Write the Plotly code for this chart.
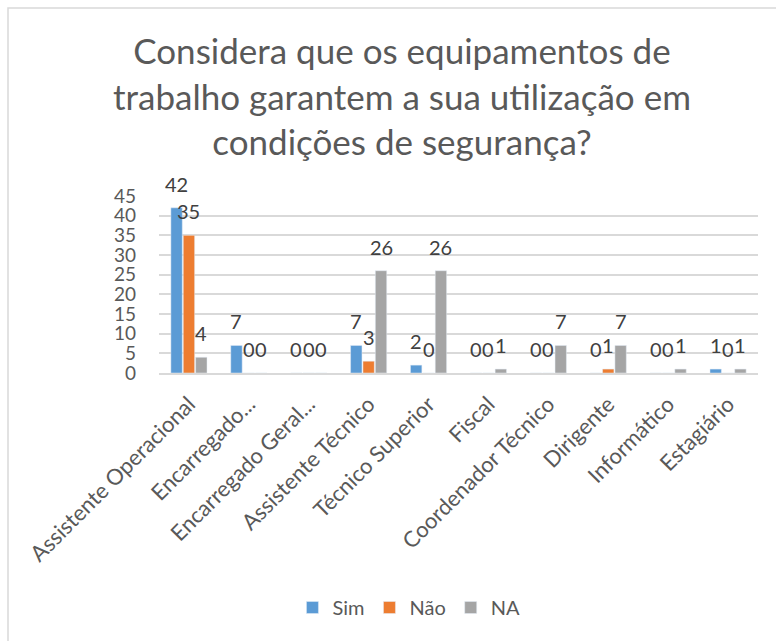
import plotly.graph_objects as go

categories = ["Assistente Operacional", "Encarregado...", "Encarregado Geral...",
              "Assistente Técnico", "Técnico Superior", "Fiscal",
              "Coordenador Técnico", "Dirigente", "Informático", "Estagiário"]
sim = [42, 7, 0, 7, 2, 0, 0, 0, 0, 1]
nao = [35, 0, 0, 3, 0, 0, 0, 1, 0, 0]
na = [4, 0, 0, 26, 26, 1, 7, 7, 1, 1]
y_ticks = [0, 5, 10, 15, 20, 25, 30, 35, 40, 45]

FONT = "Lato"
TXT = "#595959"
LBL = "#404040"
BARGAP = 0.38
series = [("Sim", sim, "#5B9BD5"), ("Não", nao, "#ED7D31"), ("NA", na, "#A5A5A5")]

fig = go.Figure()
for name, vals, col in series:
    fig.add_trace(go.Bar(x=categories, y=vals, name=name, marker_color=col))

# data labels (Excel "outside end" style), placed through the category/value axes
n_series = len(series)
for j, (name, vals, col) in enumerate(series):
    off = (j - (n_series - 1) / 2) * (1 - BARGAP) / n_series
    for i, v in enumerate(vals):
        fig.add_annotation(x=i + off, y=v, xref="x", yref="y", text=str(v),
                           showarrow=False, yanchor="middle", yshift=24,
                           font=dict(family=FONT, size=20, color=LBL))

W, H = 776, 641
L, R, T, B = 159, 18, 196, 268
pw = W - L - R
ph = H - T - B

fig.update_layout(
    width=W, height=H,
    margin=dict(l=L, r=R, t=T, b=B, autoexpand=False),
    paper_bgcolor="white", plot_bgcolor="white",
    barmode="group", bargap=BARGAP, bargroupgap=0.08,
    font=dict(family=FONT, color=TXT),
    title=dict(
        text="Considera que os equipamentos de<br>trabalho garantem a sua utilização em<br>condições de segurança?",
        x=0.518, xanchor="center", xref="container", y=1 - 64 / H, yanchor="top", yref="container",
        font=dict(family=FONT, size=35, color=TXT),
    ),
    showlegend=True,
    legend=dict(orientation="h", x=0.527, xanchor="center", xref="container",
                y=1 - 588 / H, yanchor="top", yref="container",
                font=dict(family=FONT, size=20, color=TXT),
                itemwidth=30, traceorder="normal"),
)
fig.update_xaxes(
    tickangle=-45, tickfont=dict(family=FONT, size=22, color=TXT),
    showline=True, linecolor="#D9D9D9", linewidth=1.5, ticks="",
    showgrid=False, automargin=False, ticklabelstandoff=8,
)
fig.update_yaxes(
    range=[0, 45], tickvals=y_ticks, tickfont=dict(family=FONT, size=19, color=TXT),
    showgrid=True, gridcolor="#D9D9D9", gridwidth=1.5, zeroline=False,
    showline=False, ticks="", ticklabelstandoff=22, automargin=False,
)

# chart border (Excel chart area outline)
fig.add_shape(type="rect", xref="paper", yref="paper",
              x0=(8 - L) / pw, x1=(W + 5 - L) / pw,
              y0=-(H + 5 - (H - B)) / ph, y1=((H - B) - 8) / ph,
              line=dict(color="#D9D9D9", width=1.5), fillcolor="rgba(0,0,0,0)", layer="below")

fig.write_html("out.html", config={"displayModeBar": False},
               post_script="document.body.style.margin='0';")
